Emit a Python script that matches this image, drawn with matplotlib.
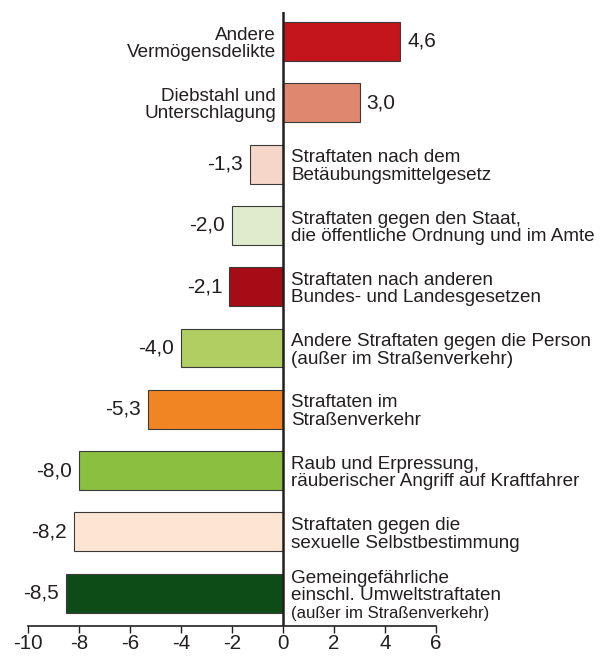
import matplotlib
matplotlib.use("Agg")
from matplotlib import pyplot as plt

plt.rcParams["font.family"] = ["Liberation Sans", "DejaVu Sans"]

labels = [
    "Andere\nVermögensdelikte",
    "Diebstahl und\nUnterschlagung",
    "Straftaten nach dem\nBetäubungsmittelgesetz",
    "Straftaten gegen den Staat,\ndie öffentliche Ordnung und im Amte",
    "Straftaten nach anderen\nBundes- und Landesgesetzen",
    "Andere Straftaten gegen die Person\n(außer im Straßenverkehr)",
    "Straftaten im\nStraßenverkehr",
    "Raub und Erpressung,\nräuberischer Angriff auf Kraftfahrer",
    "Straftaten gegen die\nsexuelle Selbstbestimmung",
    "Gemeingefährliche\neinschl. Umweltstraftaten\n(außer im Straßenverkehr)",
]
values = [4.6, 3.0, -1.3, -2.0, -2.1, -4.0, -5.3, -8.0, -8.2, -8.5]
colours = ["#c4141c", "#e0886f", "#f6d6c9", "#e0eacd", "#a50c15",
           "#b1ce63", "#f28523", "#8bbf3f", "#fde5d2", "#0e4c17"]
xticks = [-10, -8, -6, -4, -2, 0, 2, 4, 6]

fs_lab = 13.6
fs_val = 15
fs_tick = 14.8
line_step = 12.6  # points between baselines

fig = plt.figure(figsize=(6.15, 6.59), dpi=100)
ax = fig.add_axes([28 / 615, 33 / 659, 408 / 615, 614 / 659])

ypos = list(range(len(values)))
ax.barh(ypos, values, height=0.636, color=colours, edgecolor="#3a3a3a", linewidth=0.8, zorder=2)
ax.axvline(0, color="#231f20", lw=1.8, zorder=3)

for y, v, lab in zip(ypos, values, labels):
    txt = f"{v:.1f}".replace(".", ",")
    if v >= 0:
        ax.annotate(txt, (v, y), xytext=(5, 0), textcoords="offset points",
                    ha="left", va="center", fontsize=fs_val, color="#231f20")
        ha, dx = "right", -5
    else:
        ax.annotate(txt, (v, y), xytext=(-5, 0), textcoords="offset points",
                    ha="right", va="center", fontsize=fs_val, color="#231f20")
        ha, dx = "left", 6
    lines = lab.split("\n")
    n = len(lines)
    for k, line in enumerate(lines):
        size = fs_lab
        if n == 3 and k == 2:
            size = 12.1
        dy = ((n - 1) / 2 - k) * line_step - 5
        ax.annotate(line, (0, y), xytext=(dx, dy), textcoords="offset points",
                    ha=ha, va="baseline", fontsize=size, color="#231f20")

ax.set_xlim(-10, 6)
ax.set_ylim(9.535, -0.481)
ax.set_xticks(xticks)
ax.set_xticklabels([str(t) for t in xticks], fontsize=fs_tick, color="#231f20")
ax.set_yticks([])
for s in ["left", "right", "top"]:
    ax.spines[s].set_visible(False)
ax.spines["bottom"].set_linewidth(1.2)
ax.spines["bottom"].set_color("#231f20")
ax.tick_params(axis="x", direction="out", length=5, width=1, pad=1, color="#231f20")
ax.patch.set_alpha(0)

plt.savefig("out.png", dpi=100)
plt.close()
